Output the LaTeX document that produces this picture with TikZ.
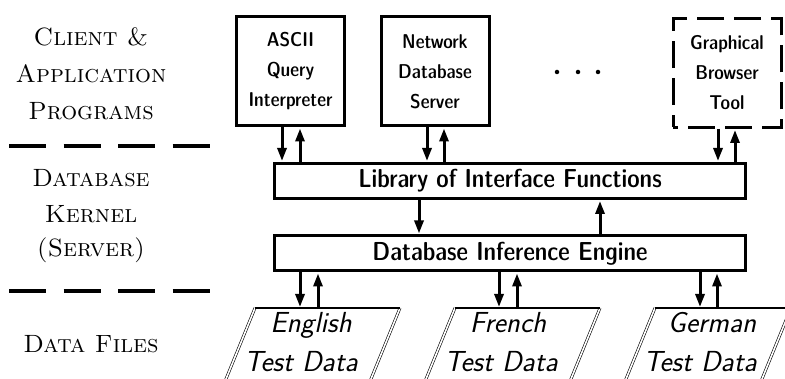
\documentclass[tikz,border=0pt]{standalone}
\usetikzlibrary{arrows.meta}
\begin{document}
\begin{tikzpicture}[x=1pt,y=-1pt,
  box/.style={draw, line width=3pt, minimum width=108pt, minimum height=109pt, inner sep=0pt,
    align=center, font=\sffamily\fontseries{sbc}\fontsize{20}{30}\selectfont},
  bar/.style={draw, line width=3pt, minimum width=471pt, minimum height=35pt, inner sep=0pt,
    font=\sffamily\fontseries{sbc}\fontsize{26}{26}\selectfont},
  arr/.style={line width=3pt, -{Triangle[length=13pt,width=9pt]}, shorten >=1pt},
  lab/.style={anchor=base, inner sep=0pt, font=\fontsize{25}{26}\selectfont\scshape},
  dat/.style={anchor=base, inner sep=0pt, font=\sffamily\itshape\fontsize{29}{30}\selectfont},
  sep/.style={line width=4pt, dash pattern=on 37pt off 17.5pt},
  topedge/.style={line width=2pt},
  sideedge/.style={line width=0.6pt, double, double distance=1.6pt},
  dotc/.style={fill, circle, inner sep=0pt, minimum size=4.5pt}]
\useasboundingbox (0,0) rectangle (785,379);
\clip (0,0) rectangle (785,379);
% left labels
\node[lab] (l1) at (91,46) {Client \&};
\node[lab] (l2) at (91,83) {Application};
\node[lab] (l3) at (91,120) {Programs};
\node[lab] (l4) at (91,187) {Database};
\node[lab] (l5) at (91,223) {Kernel};
\node[lab] (l6) at (91,257) {(Server)};
\node[lab] (l7) at (91,353) {Data Files};
\draw[sep] (9,146.5) -- (210,146.5);
\draw[sep] (9,291) -- (210,291);
% client boxes
\node[box] (ascii) at (290.5,71.5) {ASCII\\Query\\Interpreter};
\node[box] (net) at (435,71.5) {Network\\Database\\Server};
\node[box, dash pattern=on 27pt off 10pt, dash phase=22pt] (gra) at (727,73) {Graphical\\Browser\\Tool};
\node[dotc] (d1) at (557,72) {};
\node[dotc] (d2) at (578,72) {};
\node[dotc] (d3) at (598,72) {};
% kernel bars
\node[bar] (lib) at (510,181) {Library of Interface Functions};
\node[bar] (eng) at (510,253.5) {Database Inference Engine};
% arrows clients <-> library
\draw[arr] ([xshift=-8.5pt]ascii.south) -- ([xshift=-8.5pt]ascii.south |- lib.north);
\draw[arr] ([xshift=9.5pt]ascii.south |- lib.north) -- ([xshift=9.5pt]ascii.south);
\draw[arr] ([xshift=-8pt]net.south) -- ([xshift=-8pt]net.south |- lib.north);
\draw[arr] ([xshift=9pt]net.south |- lib.north) -- ([xshift=9pt]net.south);
\draw[arr] ([xshift=-9pt]gra.south) -- ([xshift=-9pt]gra.south |- lib.north);
\draw[arr] ([xshift=8pt]gra.south |- lib.north) -- ([xshift=8pt]gra.south);
% library <-> engine
\draw[arr] ([xshift=-91pt]lib.south) -- ([xshift=-91pt]lib.south |- eng.north);
\draw[arr] ([xshift=90pt]lib.south |- eng.north) -- ([xshift=90pt]lib.south);
% data files
\coordinate (enTL) at (255,308); \coordinate (enTR) at (400,308);
\coordinate (enBL) at (217.4,400); \coordinate (enBR) at (362.4,400);
\coordinate (frTL) at (455,308); \coordinate (frTR) at (600,308);
\coordinate (frBL) at (417.4,400); \coordinate (frBR) at (562.4,400);
\coordinate (geTL) at (655,308); \coordinate (geTR) at (791,308);
\coordinate (geBL) at (617.4,400); \coordinate (geBR) at (753.4,400);
\foreach \f in {en,fr,ge}{
  \draw[sideedge] (\f TL) -- (\f BL);
  \draw[sideedge] (\f TR) -- (\f BR);
  \draw[topedge] (\f TL) -- (\f TR);
}
\node[dat] (en1) at (311,333) {English};
\node[dat] (en2) at (301,372) {Test Data};
\node[dat] (fr1) at (508,333) {French};
\node[dat] (fr2) at (501,372) {Test Data};
\node[dat] (ge1) at (712,333) {German};
\node[dat] (ge2) at (700,372) {Test Data};
% engine <-> data files
\draw[arr] (eng.south -| 300,0) -- (enTL -| 300,0);
\draw[arr] (enTL -| 318,0) -- (eng.south -| 318,0);
\draw[arr] (eng.south -| 499,0) -- (frTL -| 499,0);
\draw[arr] (frTL -| 517,0) -- (eng.south -| 517,0);
\draw[arr] (eng.south -| 700,0) -- (geTL -| 700,0);
\draw[arr] (geTL -| 717,0) -- (eng.south -| 717,0);
\end{tikzpicture}
\end{document}
